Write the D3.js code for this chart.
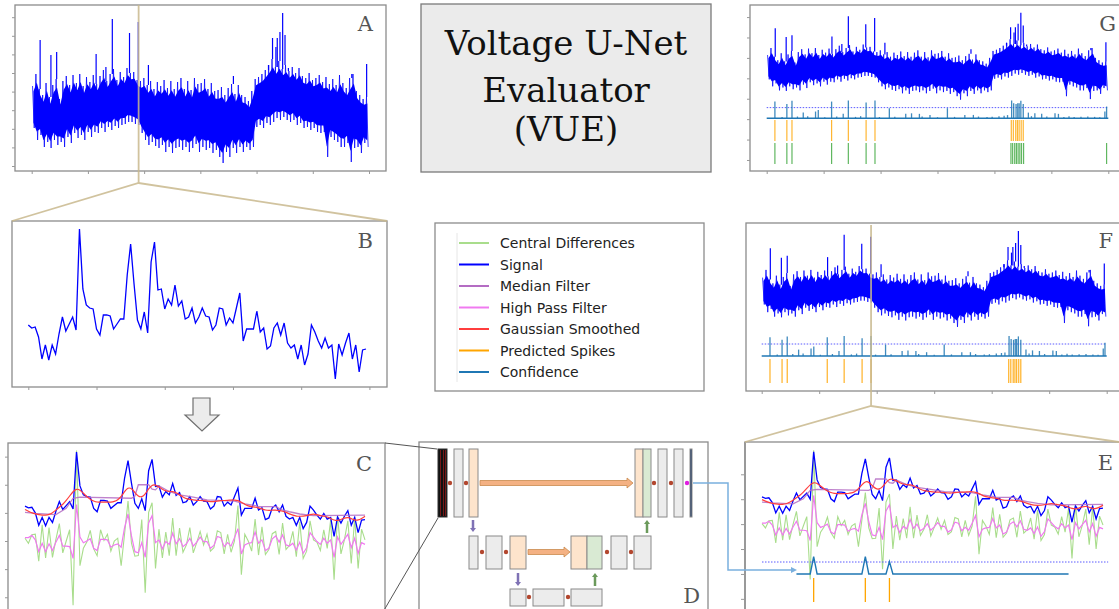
<!DOCTYPE html>
<html>
<head>
<meta charset="utf-8">
<script src="https://cdn.jsdelivr.net/npm/d3@7"></script>
<style>
  body { margin: 0; background: #fff; }
  svg { display: block; }
</style>
</head>
<body>
<svg id="fig" width="1119" height="609"></svg>
<script>
// ---------------- data ----------------
// Short snippet of the voltage trace (panel B), one value per sample
const snippetSignal = [62,59,60,50,28,42,27,42,33,53, 70,56,63,70,57,158,98,82,79,78,
  58,52,72,72,71,58,63,68,68,112, 143,103,67,58,75,54,125,145,97,98,
  78,88,82,102,81,86,68,70,79,64, 70,79,71,70,57,62,79,78,62,69,
  64,79,94,46,58,58,58,76,55,59, 38,41,59,64,52,64,44,39,42,28,
  42,22,33,62,55,46,39,49,39,42, 8,43,32,44,54,28,42,15,37,38];
// Gaussian smoothed snippet
const snippetGaussian = [56,53,50,48,47,46,46,47,50,55, 60,65,72,80,88,93,91,85,79,74,
  71,69,69,69,69,69,70,73,79,88, 95,94,86,79,78,83,93,100,100,96,
  92,89,88,88,86,82,78,75,74,73, 72,72,72,71,70,70,71,72,72,72,
  73,73,72,69,65,62,61,60,59,57, 55,54,55,55,54,53,51,48,46,44,
  44,44,45,47,48,47,45,44,43,40, 37,36,38,41,42,40,37,37,40,44];
// Median filter (breakpoints of the stepwise trace)
const medianIdx = [0,3,9,12,14,16,31,32,33,36,37,38,39,42,45,49,53,61,64,67,68,73,75,77,80,84,99];
const medianVal = [51,49,47,58,76,78,76,80,100,100,92,91,98,88,82,78,73,71,66,63,61,61,55,52,48,45,46];
// High pass filtered snippet
const snippetHighPass = [6,6,10,2,-19,-4,-19,-5,-17,-2, 10,-9,-9,-10,-31,65,7,-3,0,4,
  -13,-17,3,3,2,-11,-7,-5,-11,24, 48,9,-19,-21,-3,-29,32,45,-3,2,
  -14,-1,-6,14,-5,4,-10,-5,5,-9, -2,7,-1,-1,-13,-8,8,6,-10,-3,
  -9,6,22,-23,-7,-4,-3,16,-4,2, -17,-13,4,9,-2,11,-7,-9,-4,-16,
  -2,-22,-12,15,7,-1,-6,5,-4,2, -29,7,-6,3,12,-12,5,-22,-3,-6];
// Central differences of the snippet
const snippetCentralDiff = [5,-4,11,12,-36,29,-30,24,-29,3, 31,-21,0,20,-114,161,-44,-13,-2,19,
  -14,-26,20,1,12,-18,0,5,-44,13, 71,-4,-27,-26,38,-92,51,68,-49,21,
  -30,16,-26,41,-26,23,-20,-7,24,-21, -3,17,-7,12,-18,-12,18,15,-23,12,
  -20,0,63,-60,12,0,-18,39,-25,25, -24,-15,13,17,-24,32,-15,-8,17,-28,
  34,-31,-18,36,2,-2,-17,20,-13,37, -69,46,-23,2,36,-40,41,-49,21,2];
// Network confidence over the snippet and predicted spike samples
const snippetConfIdx = [10,14,15,16,29,30,31,36,37,38,89];
const snippetConfVal = [0,0,0.87,0,0,0.87,0,0,0.62,0,0];
const snippetPredIdx = [15,30,37];
const confThreshold = 0.6;

// Full recording, summarised per bin (upper / lower envelope)
const recHigh = [85,97,82,76,88,74,86,92,72,90, 95,86,96,88,97,85,94,89,96,87,
  95,101,90,97,102,91,99,94,103,98, 99,91,90,93,86,90,82,89,85,91,
  83,90,82,89,93,82,90,81,93,87, 88,92,82,88,80,81,84,76,83,87,
  77,86,76,74,70,80,92,94,97,101, 106,112,104,110,102,106,100,104,98,103,
  95,93,98,91,93,96,89,94,87,92, 86,96,88,83,93,97,80,76,72,74];
const recLow = [43,31,36,24,29,23,31,26,29,24, 34,28,38,33,36,31,39,34,39,38,
  43,39,44,41,45,43,46,47,49,49, 47,46,38,31,26,29,25,23,26,19,
  24,18,23,24,21,24,19,23,27,19, 24,21,23,18,21,14,8,19,14,23,
  18,24,19,24,21,24,44,46,43,48, 46,49,53,51,54,51,49,51,46,48,
  43,44,41,43,39,38,39,14,34,31, 29,24,24,28,9,23,24,18,28,24];
// Isolated large transients: bin position and peak value
const recSpikeBin = [2.5,5.7,7.4,19.1,22.0,23.9,29.0,31.6,34.6,59.8,70.2,71.4,72.4,72.8,73.6,74.4,75.1,76.1,94.9,99.3];
const recSpikeVal = [131,116,119,117,104,152,138,149,106,95,101,133,124,133,139,158,136,103,97,107];
// Confidence over the recording
const recConfBin = [2.4,5.9,7.4,10.7,14.3,15.1,19.0,22.4,23.9,29.1,31.7,35.9,40.7,42.4,44.7,47.8,52.9,58.0,60.5,
  71.7,72.3,73.0,73.5,73.9,74.4,75.1,76.6,78.5,80.5,84.4,85.4,99.0,99.5,
  4.5,9,12,17,20.5,26,27.5,33,37.5,45.5,50,55,62,64.5,66,68,69.5,70.5,77.5,82,87,88.5,90,92,94,96,97.5];
const recConfVal = [0.94,0.81,0.98,0.32,0.38,0.47,0.94,0.25,1.0,0.89,1.0,0.57,0.25,0.28,0.25,0.19,0.57,0.19,0.19,
  1.0,0.85,0.81,0.85,0.85,0.98,0.81,0.32,0.28,0.25,0.28,0.25,0.38,0.66,
  0.08,0.1,0.12,0.06,0.1,0.08,0.12,0.07,0.09,0.1,0.06,0.08,0.1,0.07,0.09,0.12,0.15,0.18,0.12,0.1,0.08,0.11,0.07,0.09,0.1,0.08,0.06];
const recPredBin = [2.4,5.9,7.4,19.0,23.9,29.1,31.7,71.6,72.2,72.9,73.4,73.9,74.5,75.1];
const recTruthBin = [2.4,5.9,7.4,19.0,23.9,29.1,31.7,71.5,72.0,72.6,73.1,73.6,74.1,74.6,75.2,99.5];
const snippetBin = 31.7;   // where the snippet sits inside the recording

const legendLabels = ["Central Differences","Signal","Median Filter","High Pass Filter","Gaussian Smoothed","Predicted Spikes","Confidence"];
const titleLines = ["Voltage U-Net","Evaluator","(VUE)"];

// ---------------- styles ----------------
const COL = {
  cd: "#a9dd8c", signal: "#0000ff", median: "#b46cc3", hp: "#f07af0",
  gauss: "#ff3d3d", pred: "#ffa500", conf: "#1f77b4", truth: "#2ca02c",
  tan: "#c9b98e", frame: "#8c8c8c", thresh: "#5a5aff"
};
const legendColors = [COL.cd, COL.signal, COL.median, COL.hp, COL.gauss, COL.pred, COL.conf];

const svg = d3.select("#fig");
const serif = "'DejaVu Serif', serif";
const sans = "'DejaVu Sans', sans-serif";

function frame(x, y, w, h, sw) {
  svg.append("rect").attr("x", x).attr("y", y).attr("width", w).attr("height", h)
    .attr("fill", "none").attr("stroke", COL.frame).attr("stroke-width", sw || 1.3);
}
function panelLabel(t, x, y) {
  svg.append("text").attr("x", x).attr("y", y).attr("text-anchor", "end")
    .attr("font-family", serif).attr("font-size", 21).attr("fill", "#555").text(t);
}
function tickMarks(scale, orient, values, pos) {
  const ax = (orient === "bottom" ? d3.axisBottom(scale) : d3.axisLeft(scale))
    .tickValues(values).tickSize(3).tickFormat("");
  const g = svg.append("g")
    .attr("transform", orient === "bottom" ? `translate(0,${pos})` : `translate(${pos},0)`)
    .call(ax);
  g.select(".domain").remove();
  g.selectAll("line").attr("stroke", "#999").attr("stroke-width", 1);
}

// ---------------- recording panels ----------------
function drawRecording(xs, ys) {
  const bins = d3.range(recHigh.length);
  // solid core of the dense trace
  const core = d3.area()
    .x(j => xs(j + 0.5))
    .y0(j => ys(recLow[j] + (recHigh[j] - recLow[j]) * 0.13))
    .y1(j => ys(recHigh[j] - (recHigh[j] - recLow[j]) * 0.13));
  svg.append("path").datum(bins).attr("d", core).attr("fill", COL.signal);
  // min/max excursions of every bin, drawn as one continuous trace
  const zig = [];
  bins.forEach(j => { zig.push([j + 0.25, recHigh[j]]); zig.push([j + 0.75, recLow[j]]); });
  svg.append("path").datum(zig)
    .attr("d", d3.line().x(p => xs(p[0])).y(p => ys(p[1])))
    .attr("fill", "none").attr("stroke", COL.signal).attr("stroke-width", 1).attr("opacity", 0.75);
  svg.append("g").selectAll("line").data(recSpikeBin).join("line")
    .attr("x1", b => xs(b)).attr("x2", b => xs(b))
    .attr("y1", b => ys(recHigh[Math.min(recHigh.length - 1, Math.floor(b))]))
    .attr("y2", (b, i) => ys(recSpikeVal[i]))
    .attr("stroke", COL.signal).attr("stroke-width", 1.2);
}
function drawRecConfidence(xs, cs) {
  svg.append("line").attr("x1", xs(0)).attr("x2", xs(100))
    .attr("y1", cs(confThreshold)).attr("y2", cs(confThreshold))
    .attr("stroke", COL.thresh).attr("stroke-width", 1).attr("stroke-dasharray", "1.5,1.5");
  svg.append("g").selectAll("line").data(recConfBin).join("line")
    .attr("x1", b => xs(b)).attr("x2", b => xs(b))
    .attr("y1", cs(0)).attr("y2", (b, i) => cs(recConfVal[i]))
    .attr("stroke", COL.conf).attr("stroke-width", 1.3).attr("opacity", 0.85);
  svg.append("line").attr("x1", xs(0)).attr("x2", xs(100))
    .attr("y1", cs(0)).attr("y2", cs(0))
    .attr("stroke", COL.conf).attr("stroke-width", 1.6);
}
function drawRaster(xs, bins, y0, y1, color, op) {
  svg.append("g").selectAll("line").data(bins).join("line")
    .attr("x1", b => xs(b)).attr("x2", b => xs(b))
    .attr("y1", y0).attr("y2", y1)
    .attr("stroke", color).attr("stroke-width", 1.2).attr("opacity", op);
}

// Panel A
const xA = d3.scaleLinear().domain([0, 100]).range([31.7, 369]);
const yA = d3.scaleLinear().domain([0, 166]).range([171, 5]);
frame(15, 5, 371, 166);
tickMarks(xA, "bottom", d3.range(0, 100.1, 100 / 6), 171);
tickMarks(yA, "left", d3.range(5, 160, 18.6), 15);
drawRecording(xA, yA);
panelLabel("A", 373, 31);

// Panel G
const xG = d3.scaleLinear().domain([0, 100]).range([766.7, 1108.3]);
const yG = d3.scaleLinear().domain([0, 100]).range([104.3, 46.3]);
const cG = d3.scaleLinear().domain([0, 1]).range([118.3, 100.5]);
frame(750, 5, 380, 166);
tickMarks(xG, "bottom", d3.range(0, 100.1, 100 / 6), 171);
tickMarks(yG, "left", d3.range(-96, 160, 35.2), 750);
drawRecording(xG, yG);
drawRecConfidence(xG, cG);
drawRaster(xG, recPredBin, 120, 141, COL.pred, 0.8);
drawRaster(xG, recTruthBin, 143, 164, COL.truth, 0.75);
panelLabel("G", 1116, 31);

// Panel F
const xF = d3.scaleLinear().domain([0, 100]).range([761.7, 1106.7]);
const yF = d3.scaleLinear().domain([0, 100]).range([332, 268]);
const cF = d3.scaleLinear().domain([0, 1]).range([356, 336]);
frame(746, 223, 380, 168);
tickMarks(xF, "bottom", d3.range(0, 100.1, 100 / 6), 391);
drawRecording(xF, yF);
drawRecConfidence(xF, cF);
drawRaster(xF, recPredBin, 359, 383, COL.pred, 0.85);
panelLabel("F", 1113, 248);

// ---------------- snippet panels ----------------
const idx = d3.range(snippetSignal.length);
function drawSnippet(xs, ys, full) {
  const ln = arr => d3.line().x(i => xs(i)).y(i => ys(arr[i]));
  if (full) {
    svg.append("path").datum(idx).attr("d", ln(snippetCentralDiff))
      .attr("fill", "none").attr("stroke", COL.cd).attr("stroke-width", 1.1);
  }
  svg.append("path").datum(idx).attr("d", ln(snippetSignal))
    .attr("fill", "none").attr("stroke", COL.signal).attr("stroke-width", 1.3);
  if (full) {
    svg.append("path").datum(d3.range(medianIdx.length))
      .attr("d", d3.line().x(k => xs(medianIdx[k])).y(k => ys(medianVal[k])))
      .attr("fill", "none").attr("stroke", COL.median).attr("stroke-width", 1.3).attr("opacity", 0.85);
    svg.append("path").datum(idx).attr("d", ln(snippetHighPass))
      .attr("fill", "none").attr("stroke", COL.hp).attr("stroke-width", 1.2);
    svg.append("path").datum(idx).attr("d", ln(snippetGaussian).curve(d3.curveBasis))
      .attr("fill", "none").attr("stroke", COL.gauss).attr("stroke-width", 1.2);
  }
}

// Panel B
const xB = d3.scaleLinear().domain([0, 99]).range([28.3, 366]);
const yB = d3.scaleLinear().domain([0, 166]).range([387, 221]);
frame(12, 221, 375, 166);
tickMarks(xB, "bottom", d3.range(0, 101, 20), 387);
drawSnippet(xB, yB, false);
panelLabel("B", 373, 248);

// Panel C
const xC = d3.scaleLinear().domain([0, 99]).range([25, 365]);
const yC = d3.scaleLinear().domain([0, 100]).range([541, 484.75]);
frame(8, 443, 377, 190);
tickMarks(yC, "left", d3.range(-100, 151, 50), 8);
drawSnippet(xC, yC, true);
panelLabel("C", 372, 471);

// Panel E
const xE = d3.scaleLinear().domain([0, 99]).range([762, 1103]);
const yE = d3.scaleLinear().domain([0, 100]).range([526, 479]);
const cE = d3.scaleLinear().domain([0, 1]).range([574, 554]);
frame(745, 442, 390, 190);
svg.append("line").attr("x1", 745).attr("x2", 745).attr("y1", 442).attr("y2", 609)
  .attr("stroke", "#999").attr("stroke-width", 2);
tickMarks(yE, "left", d3.range(-155, 120, 53), 744);
drawSnippet(xE, yE, true);
svg.append("line").attr("x1", xE(0)).attr("x2", xE(100.5))
  .attr("y1", cE(confThreshold)).attr("y2", cE(confThreshold))
  .attr("stroke", COL.thresh).attr("stroke-width", 1).attr("stroke-dasharray", "1.5,1.5");
svg.append("path").datum(d3.range(snippetConfIdx.length))
  .attr("d", d3.line().x(k => xE(snippetConfIdx[k])).y(k => cE(snippetConfVal[k])))
  .attr("fill", "none").attr("stroke", COL.conf).attr("stroke-width", 1.4);
svg.append("g").selectAll("line").data(snippetPredIdx).join("line")
  .attr("x1", i => xE(i)).attr("x2", i => xE(i)).attr("y1", 578).attr("y2", 602)
  .attr("stroke", COL.pred).attr("stroke-width", 1.3);
panelLabel("E", 1113, 470);

// ---------------- zoom connectors ----------------
function zoomConnector(xTop, yTop, yJoin, left, right, yEnd) {
  const g = svg.append("g").attr("stroke", COL.tan).attr("stroke-width", 1.8).attr("fill", "none").attr("opacity", 0.85);
  g.append("line").attr("x1", xTop).attr("x2", xTop).attr("y1", yTop).attr("y2", yJoin);
  g.append("polyline").attr("points", `${left},${yEnd} ${xTop},${yJoin} ${right},${yEnd}`);
}
zoomConnector(xA(snippetBin), 5, 183, 12, 387, 221);
zoomConnector(xF(snippetBin), 225, 406, 745, 1119, 442);

// ---------------- title ----------------
svg.append("rect").attr("x", 421).attr("y", 4).attr("width", 290).attr("height", 168)
  .attr("fill", "#ebebeb").attr("stroke", "#7a7a7a").attr("stroke-width", 1.3);
const titleBase = [55, 102, 141];
titleLines.forEach((t, i) => {
  svg.append("text").attr("x", 566).attr("y", titleBase[i]).attr("text-anchor", "middle")
    .attr("font-family", serif).attr("font-size", 34).attr("fill", "#111").text(t);
});

// ---------------- legend ----------------
svg.append("rect").attr("x", 435).attr("y", 223).attr("width", 269).attr("height", 168)
  .attr("fill", "#fff").attr("stroke", COL.frame).attr("stroke-width", 1.3);
svg.append("line").attr("x1", 457).attr("x2", 457).attr("y1", 233).attr("y2", 382)
  .attr("stroke", "#e6e6e6").attr("stroke-width", 1);
const legY = d3.scalePoint().domain(legendLabels).range([243, 372]);
legendLabels.forEach((lab, i) => {
  const y = legY(lab);
  svg.append("line").attr("x1", 459).attr("x2", 489).attr("y1", y).attr("y2", y)
    .attr("stroke", legendColors[i]).attr("stroke-width", 2);
  svg.append("text").attr("x", 500).attr("y", y + 5).attr("font-family", sans)
    .attr("font-size", 14).attr("fill", "#222").text(lab);
});

// ---------------- arrow B -> C ----------------
svg.append("polygon")
  .attr("points", "193,398 210,398 210,415 219,415 202,431 185,415 193,415")
  .attr("fill", "#ececec").attr("stroke", "#707070").attr("stroke-width", 1.2);

// ---------------- panel D: U-Net schematic ----------------
const dX = d3.scaleLinear().domain([0, 289]).range([419, 708]);
const dY = d3.scaleLinear().domain([0, 180]).range([442, 622]);
frame(419, 442, 289, 190);
const rows = [[7, 75], [94, 127], [147, 164]];
const FILL = { gray: "#ececec", peach: "#fde4cc", green: "#d9ead3", input: "#111", out: "#1f3a66" };
const unetBlocks = [
  [0, 19, 28, "input"], [0, 35, 44, "gray"], [0, 50, 59, "peach"],
  [0, 216, 224, "peach"], [0, 224, 232, "green"], [0, 239, 248, "gray"], [0, 255, 264, "gray"], [0, 271, 273, "out"],
  [1, 50, 59, "gray"], [1, 67, 83, "gray"], [1, 91, 107, "peach"],
  [1, 152, 168, "peach"], [1, 168, 183, "green"], [1, 192, 208, "gray"], [1, 215, 232, "gray"],
  [2, 91, 107, "gray"], [2, 114, 145, "gray"], [2, 152, 183, "gray"]
];
const dG = svg.append("g");
dG.selectAll("rect.blk").data(unetBlocks).join("rect")
  .attr("x", d => dX(d[1])).attr("width", d => dX(d[2]) - dX(d[1]))
  .attr("y", d => dY(rows[d[0]][0])).attr("height", d => dY(rows[d[0]][1]) - dY(rows[d[0]][0]))
  .attr("fill", d => FILL[d[3]]).attr("stroke", d => d[3] === "input" ? "#333" : "#8a8a8a").attr("stroke-width", 1);
// channel stripes of the input block
[21.5, 24.5, 26.5].forEach(c => {
  dG.append("line").attr("x1", dX(c)).attr("x2", dX(c)).attr("y1", dY(8)).attr("y2", dY(74))
    .attr("stroke", "#8e1b1b").attr("stroke-width", 0.8);
});
// skip connections
function fatArrow(x0, x1, cy) {
  const a = dX(x0), b = dX(x1), y = dY(cy);
  dG.append("polygon")
    .attr("points", `${a},${y - 2.5} ${b - 6},${y - 2.5} ${b - 6},${y - 5} ${b},${y} ${b - 6},${y + 5} ${b - 6},${y + 2.5} ${a},${y + 2.5}`)
    .attr("fill", "#f4b183").attr("stroke", "#c98a4e").attr("stroke-width", 0.8);
}
fatArrow(61, 214, 41);
fatArrow(109, 151, 110);
// pooling / upsampling arrows
function thinArrow(cx, y0, y1, color) {
  const x = dX(cx), a = dY(y0), b = dY(y1), s = b > a ? 1 : -1;
  dG.append("line").attr("x1", x).attr("x2", x).attr("y1", a).attr("y2", b - s * 4)
    .attr("stroke", color).attr("stroke-width", 2.5);
  dG.append("polygon").attr("points", `${x - 3},${b - s * 4} ${x + 3},${b - s * 4} ${x},${b}`).attr("fill", color);
}
thinArrow(54, 78, 90, "#7f72b5");
thinArrow(99, 131, 144, "#7f72b5");
thinArrow(228, 91, 78, "#6b9a5b");
thinArrow(176, 144, 131, "#6b9a5b");
// convolution steps
const convDots = [[31, 41], [47, 41], [235, 41], [252, 41], [63, 110], [87, 110], [188, 110], [212, 110], [110, 155], [149, 155]];
dG.selectAll("circle.cv").data(convDots).join("circle")
  .attr("cx", d => dX(d[0])).attr("cy", d => dY(d[1])).attr("r", 2.2).attr("fill", "#b3472f");
dG.append("circle").attr("cx", dX(268)).attr("cy", dY(41)).attr("r", 2.2).attr("fill", "#e01ee0");
panelLabel("D", 700, 603);

// C -> D guide lines
const guide = svg.append("g").attr("stroke", "#555").attr("stroke-width", 1);
guide.append("line").attr("x1", 385).attr("y1", 443).attr("x2", 437).attr("y2", 449);
guide.append("line").attr("x1", 383).attr("y1", 612).attr("x2", 438).attr("y2", 518);

// D -> E output connector
svg.append("polyline").attr("points", `${dX(274)},${dY(41)} 728,${dY(41)} 728,570 791,570`)
  .attr("fill", "none").attr("stroke", "#7ab0de").attr("stroke-width", 1.5);
svg.append("polygon").attr("points", "791,567 797,570 791,573").attr("fill", "#7ab0de");
</script>
</body>
</html>
